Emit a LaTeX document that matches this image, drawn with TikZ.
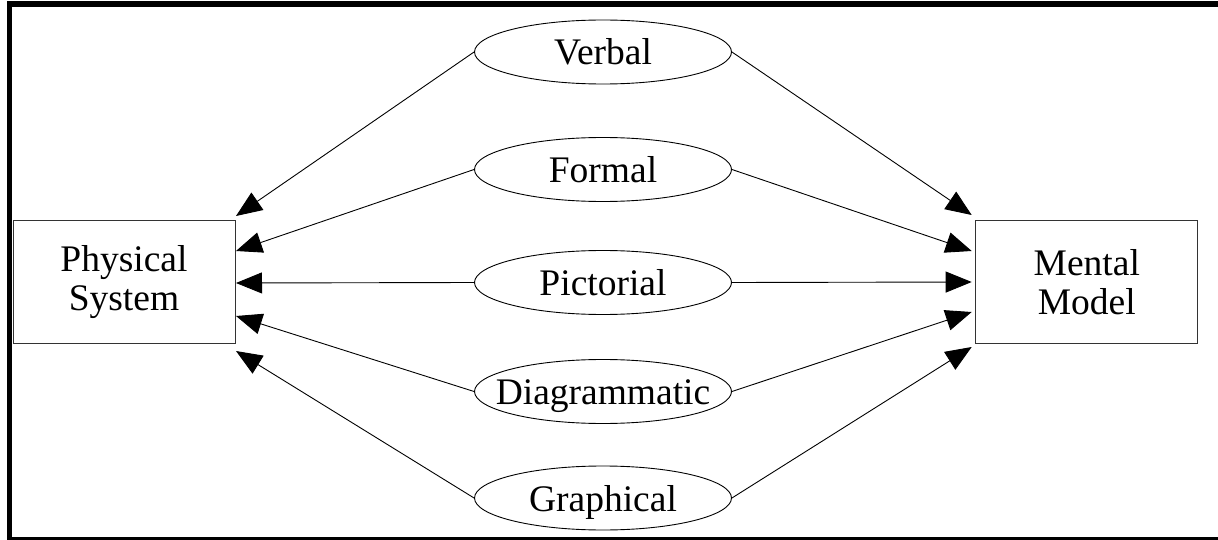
\documentclass[tikz,border=0pt]{standalone}
\usepackage{fontspec}
\setmainfont{Liberation Serif}
\usetikzlibrary{shapes.geometric,arrows.meta}
\newcommand\eltext[1]{\smash{\makebox[0pt]{\raisebox{-13pt}{#1}}}}
\tikzset{
  form/.style={ellipse, draw, line width=0.9pt, minimum width=257pt, minimum height=64pt, inner sep=0pt},
  sysbox/.style={rectangle, draw=black!80, line width=1pt, minimum width=222pt, minimum height=122.6pt, inner sep=0pt, align=center},
  conn/.style={line width=0.9pt, -{Triangle[length=26pt,width=21pt]}},
  frame/.style={fill=black}
}
\begin{document}
\begin{tikzpicture}[x=1pt,y=-1pt,font=\fontsize{37.5}{38.5}\selectfont]
\useasboundingbox (0,0) rectangle (1218,540);
% frame
\fill[frame] (7,1) rectangle (1218,6.7);
\fill[frame] (7,1) rectangle (12.3,540);
\fill[frame] (7,536.7) rectangle (1218,540);
% main boxes
\node[sysbox] (phys) at (124,282) {Physical\\System};
\node[sysbox] (ment) at (1086.8,282) {Mental\\Model};
% representation forms
\node[form] (verb) at (603,52) {\eltext{Verbal}};
\node[form] (form) at (603,169.5) {\eltext{Formal}};
\node[form] (pict) at (603,282.5) {\eltext{Pictorial}};
\node[form] (diag) at (603,391.5) {\eltext{Diagrammatic}};
\node[form] (grap) at (603,498) {\eltext{Graphical}};
% arrow tip points
\coordinate (pl1) at (236,216);
\coordinate (pl2) at (236,251);
\coordinate (pl3) at (236,283);
\coordinate (pl4) at (236,316);
\coordinate (pl5) at (236,351);
\coordinate (mr1) at (971.7,215);
\coordinate (mr2) at (971.7,251);
\coordinate (mr3) at (971.7,282);
\coordinate (mr4) at (971.7,312);
\coordinate (mr5) at (971.7,347);
% connectors
\draw[conn] (verb.west) -- (pl1);
\draw[conn] (form.west) -- (pl2);
\draw[conn] (pict.west) -- (pl3);
\draw[conn] (diag.west) -- (pl4);
\draw[conn] (grap.west) -- (pl5);
\draw[conn] (verb.east) -- (mr1);
\draw[conn] (form.east) -- (mr2);
\draw[conn] (pict.east) -- (mr3);
\draw[conn] (diag.east) -- (mr4);
\draw[conn] (grap.east) -- (mr5);
\end{tikzpicture}
\end{document}
